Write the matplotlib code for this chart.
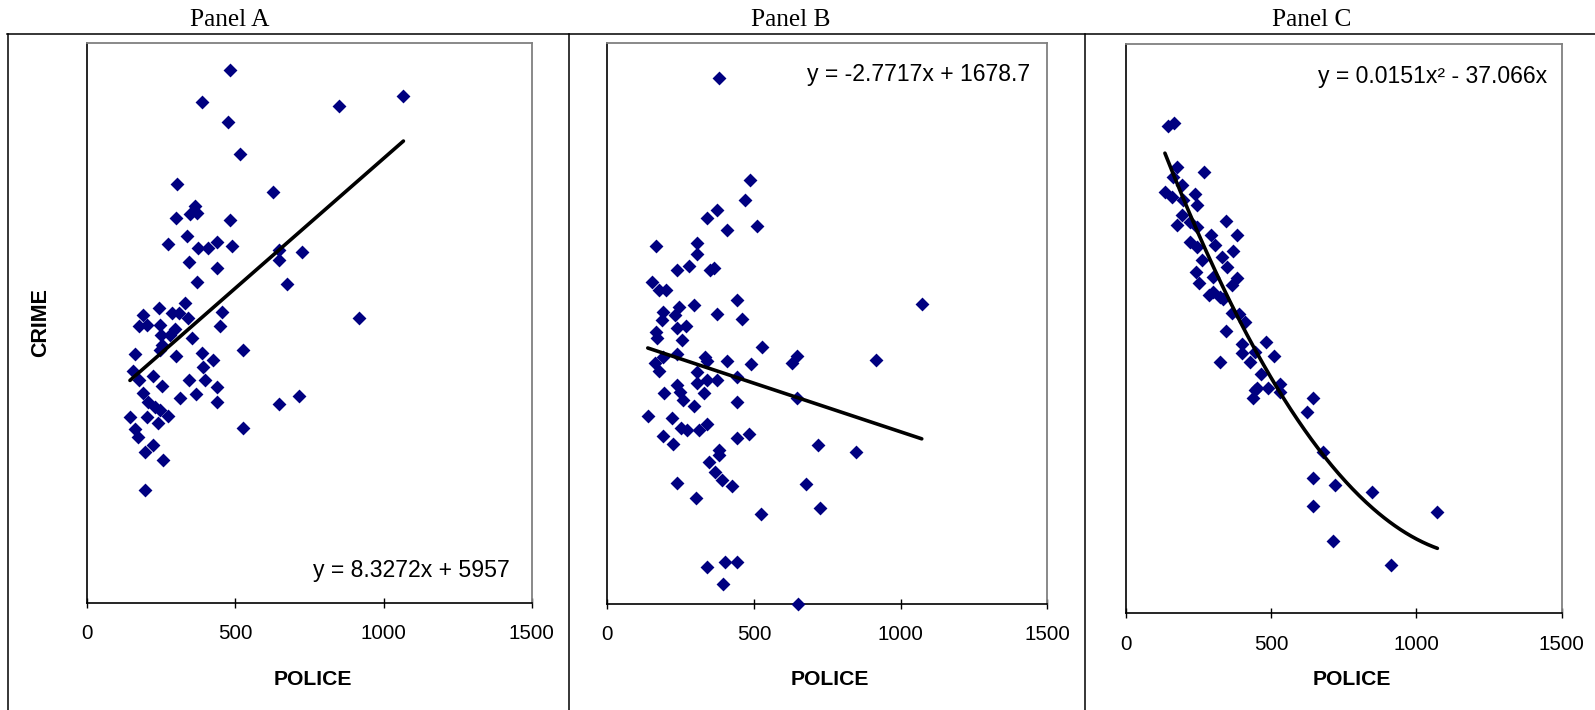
import numpy as np
import matplotlib
matplotlib.use("Agg")
import matplotlib.pyplot as plt
from matplotlib.lines import Line2D

# ---------------- data ----------------
POLICE_A = [481, 386, 851, 1067, 474, 514, 304, 628, 364, 347, 371, 298, 481, 338, 271,
            373, 406, 439, 487, 648, 724, 344, 439, 648, 371, 675, 918, 331, 243, 189,
            285, 311, 341, 454, 176, 201, 245, 296, 279, 248, 352, 448, 251, 245, 161,
            299, 386, 425, 527, 155, 176, 223, 251, 344, 392, 397, 439, 189, 206, 313,
            366, 439, 229, 245, 201, 273, 144, 240, 161, 172, 223, 195, 257, 195, 527,
            648, 715]
CRIME_A = [17120, 16100, 15960, 16290, 15450, 14420, 13460, 13200, 12770, 12500, 12540,
           12380, 12300, 11790, 11540, 11400, 11400, 11600, 11470, 11340, 11280, 10960,
           10760, 11020, 10310, 10250, 9150, 9650, 9490, 9260, 9310, 9310, 9150, 9360,
           8900, 8940, 8940, 8800, 8620, 8620, 8510, 8900, 8290, 8130, 8010, 7940, 8030,
           7810, 8130, 7470, 7170, 7300, 6980, 7170, 7600, 7170, 6940, 6740, 6470, 6600,
           6720, 6450, 6310, 6210, 5990, 6010, 5970, 5780, 5590, 5350, 5080, 4870, 4600,
           3640, 5640, 6400, 6660]

POLICE_B = [382, 485, 470, 375, 341, 409, 511, 165, 307, 307, 239, 280, 350, 364, 151,
            177, 199, 297, 443, 191, 244, 231, 375, 458, 185, 239, 268, 166, 171, 254,
            526, 646, 629, 191, 239, 163, 177, 333, 341, 409, 490, 307, 443, 373, 339,
            305, 239, 248, 194, 330, 259, 297, 648, 443, 138, 220, 251, 273, 314, 341,
            191, 225, 443, 484, 382, 382, 348, 367, 390, 424, 239, 676, 301, 524, 341,
            401, 443, 395, 649, 1072, 916, 847, 717, 725]
CRIME_B = [8980, 6080, 5510, 5230, 4990, 4660, 4770, 4200, 4280, 3970, 3520, 3630, 3520,
           3570, 3190, 2950, 2950, 2520, 2660, 2330, 2470, 2240, 2270, 2110, 2090, 1880,
           1920, 1760, 1570, 1520, 1330, 1070, 860, 1050, 1130, 860, 650, 1050, 930, 930,
           840, 620, 460, 380, 380, 310, 240, 50, 0, 20, -190, -360, -140, -230, -640,
           -710, -990, -1040, -1040, -880, -1210, -1450, -1280, -1160, -1610, -1750,
           -1940, -2230, -2470, -2640, -2540, -2580, -2990, -3440, -4940, -4790, -4790,
           -5430, -6000, 2540, 940, -1660, -1460, -3260]

POLICE_C = [146, 165, 269, 177, 163, 192, 134, 157, 238, 243, 197, 192, 177, 220, 243,
            344, 383, 220, 243, 292, 306, 369, 261, 329, 347, 241, 301, 383, 252, 364,
            301, 286, 324, 335, 364, 390, 410, 344, 398, 481, 398, 444, 427, 324, 508,
            465, 490, 530, 444, 436, 450, 530, 645, 624, 677, 645, 719, 645, 714, 846,
            1072, 913]
CRIME_C = [21780, 21900, 19740, 19960, 19510, 19140, 18840, 18620, 18720, 18250, 18470,
           17800, 17350, 17500, 17270, 17540, 16900, 16600, 16380, 16900, 16460, 16200,
           15780, 15930, 15460, 15260, 15040, 14960, 14740, 14670, 14370, 14220, 14140,
           14030, 13400, 13370, 13000, 12620, 12020, 12100, 11640, 11680, 11230, 11210,
           11490, 10670, 10040, 10230, 9970, 9590, 10040, 9890, 9620, 8970, 7180, 6040,
           5720, 4790, 3220, 5420, 4520, 2130]

# trend-line coefficients (from the equations printed on the chart;
# the intercept of panel C is cut off in the picture and is estimated)
TREND_A = (8.3272, 5957)
TREND_B = (-2.7717, 1678.7)
TREND_C = (0.0151, -37.066, 25263)

EQ_A = "y = 8.3272x + 5957"
EQ_B = "y = -2.7717x + 1678.7"
EQ_C = "y = 0.0151x\u00b2 - 37.066x"

TITLES = ["Panel A", "Panel B", "Panel C"]
XTICKS = [0, 500, 1000, 1500]
XLABEL = "POLICE"
YLABEL = "CRIME"

YLIM_A = (0, 18000)
YLIM_B = (-6000, 10000)
YLIM_C = (0, 25440)

# ---------------- figure ----------------
W, H = 1595, 710
fig = plt.figure(figsize=(W / 100, H / 100), dpi=100)
fig.patch.set_facecolor("white")

SANS = "Liberation Sans"
SERIF = "Liberation Serif"
NAVY = "#000080"


def rect(l, t, r, b):
    return [l / W, 1 - b / H, (r - l) / W, (b - t) / H]


def fy(py):
    return 1 - py / H


def make_axes(r, ylim, pad):
    ax = fig.add_axes(r)
    ax.set_xlim(0, 1500)
    ax.set_ylim(*ylim)
    ax.set_xticks(XTICKS)
    ax.set_xticklabels([str(t) for t in XTICKS], fontfamily=SANS, fontsize=14.8)
    ax.set_yticks([])
    ax.tick_params(axis="x", direction="inout", length=7.5, width=1.0,
                   pad=pad, color="black")
    for s in ("left", "bottom"):
        ax.spines[s].set_color("black")
        ax.spines[s].set_linewidth(1.2)
    for s in ("top", "right"):
        ax.spines[s].set_color("#808080")
        ax.spines[s].set_linewidth(1.3)
    return ax


axA = make_axes(rect(87.3, 42.7, 531.7, 603.3), YLIM_A, 11.5)
axB = make_axes(rect(607.3, 42.6, 1047.3, 604.0), YLIM_B, 11.5)
axC = make_axes(rect(1126.0, 44.3, 1561.7, 612.7), YLIM_C, 12.3)

MS = 50
for ax, xs, ys in ((axA, POLICE_A, CRIME_A), (axB, POLICE_B, CRIME_B),
                   (axC, POLICE_C, CRIME_C)):
    ax.scatter(xs, ys, marker="D", s=MS, color=NAVY, linewidths=0,
               clip_on=False, zorder=3)

# trend lines
LINE_W = 2.6
xa = np.linspace(min(POLICE_A), max(POLICE_A), 50)
axA.plot(xa, TREND_A[0] * xa + TREND_A[1], color="black", lw=LINE_W, zorder=4,
         solid_capstyle="round")
xb = np.linspace(min(POLICE_B), max(POLICE_B), 50)
axB.plot(xb, TREND_B[0] * xb + TREND_B[1], color="black", lw=LINE_W, zorder=4,
         solid_capstyle="round")
xc = np.linspace(min(POLICE_C), max(POLICE_C), 200)
axC.plot(xc, np.polyval(TREND_C, xc), color="black", lw=LINE_W, zorder=4,
         solid_capstyle="round")

# equations
EQ_FS = 16.6
fig.text(510 / W, fy(576.7), EQ_A, ha="right", va="baseline",
         fontfamily=SANS, fontsize=EQ_FS)
fig.text(1030 / W, fy(80.5), EQ_B, ha="right", va="baseline",
         fontfamily=SANS, fontsize=EQ_FS)
fig.text(1547 / W, fy(83.3), EQ_C, ha="right", va="baseline",
         fontfamily=SANS, fontsize=EQ_FS)

# titles
for xc_, t in zip((229.5, 790.8, 1312.0), TITLES):
    fig.text(xc_ / W, fy(25.8), t, ha="center", va="baseline",
             fontfamily=SERIF, fontsize=18.3)

# x labels
for xc_ in (312.5, 830.0, 1352.0):
    fig.text(xc_ / W, fy(685), XLABEL, ha="center", va="baseline",
             fontfamily=SANS, fontsize=15.2, fontweight="bold")

# y label
fig.text(41 / W, fy(323), YLABEL, ha="center", va="center", rotation=90,
         fontfamily=SANS, fontsize=15.5, fontweight="bold")

# table frame lines
LW = 1.1
fig.add_artist(Line2D([7 / W, 1.0], [fy(33.5), fy(33.5)], color="black", lw=LW,
                      transform=fig.transFigure))
for xv in (7.9, 569.3, 1085.3):
    fig.add_artist(Line2D([xv / W, xv / W], [fy(33.5), 0.0], color="black", lw=LW,
                          transform=fig.transFigure))

fig.savefig("out.png", dpi=100, facecolor="white")
